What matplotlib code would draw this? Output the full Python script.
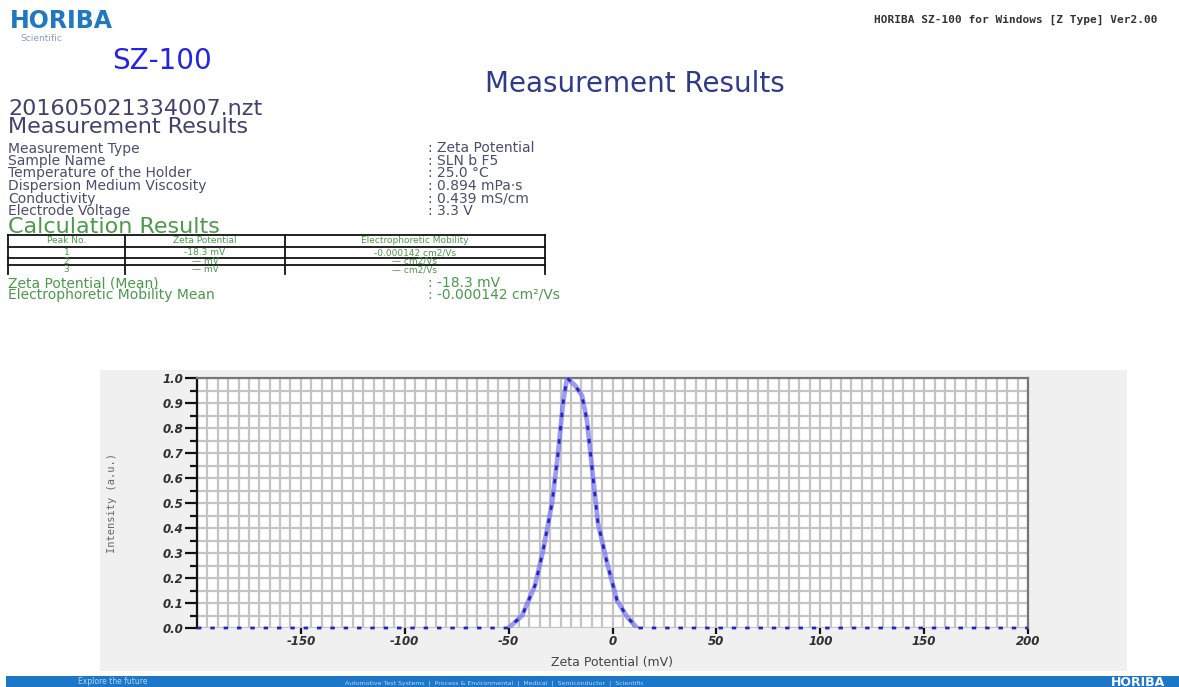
import numpy as np
import matplotlib
matplotlib.use("Agg")
import matplotlib.pyplot as plt
from matplotlib.patches import Rectangle
from matplotlib.lines import Line2D
from matplotlib.ticker import MultipleLocator, FixedLocator
from matplotlib.font_manager import FontProperties

# ---- zeta potential distribution ----
zeta_mv = [-200, -50, -43.5, -37.3, -33.4, -29.1, -26.2, -23.8, -21.9, -18.0,
           -14.7, -12.3, -9.9, -7.0, -2.6, 2.2, 7.0, 11.8, 200]
intensity = [0.0, 0.0, 0.05, 0.17, 0.31, 0.50, 0.70, 0.90, 1.00, 0.97,
             0.93, 0.83, 0.645, 0.42, 0.26, 0.11, 0.045, 0.0, 0.0]

x_tick_values = [-150, -100, -50, 0, 50, 100, 150, 200]
x_tick_labels = ["-150", "-100", "-50", "0", "50", "100", "150", "200"]
y_tick_values = [0.0, 0.1, 0.2, 0.3, 0.4, 0.5, 0.6, 0.7, 0.8, 0.9, 1.0]
y_tick_labels = ["0.0", "0.1", "0.2", "0.3", "0.4", "0.5", "0.6", "0.7", "0.8", "0.9", "1.0"]

# ---- report text ----
info_labels = ["Measurement Type", "Sample Name", "Temperature of the Holder",
               "Dispersion Medium Viscosity", "Conductivity", "Electrode Voltage"]
info_values = [": Zeta Potential", ": SLN b F5", ": 25.0 °C",
               ": 0.894 mPa·s", ": 0.439 mS/cm", ": 3.3 V"]
table_header = ["Peak No.", "Zeta Potential", "Electrophoretic Mobility"]
table_rows = [["1", "-18.3 mV", "-0.000142 cm2/Vs"],
              ["2", "— mV", "— cm2/Vs"],
              ["3", "— mV", "— cm2/Vs"]]
mean_labels = ["Zeta Potential (Mean)", "Electrophoretic Mobility Mean"]
mean_values = [": -18.3 mV", ": -0.000142 cm²/Vs"]

W, H = 1179, 687
fig = plt.figure(figsize=(W / 100, H / 100), dpi=100)
fig.patch.set_facecolor("white")


def fx(x):
    return x / W


def fy(y):
    return 1 - y / H


def put(x, y, s, **kw):
    kw.setdefault("family", "DejaVu Sans")
    kw.setdefault("va", "baseline")
    fig.text(fx(x), fy(y), s, **kw)


def hline(x0, x1, y, **kw):
    fig.add_artist(Line2D([fx(x0), fx(x1)], [fy(y), fy(y)], transform=fig.transFigure, **kw))


def vline(x, y0, y1, **kw):
    fig.add_artist(Line2D([fx(x), fx(x)], [fy(y0), fy(y1)], transform=fig.transFigure, **kw))


# header
put(10, 28, "HORIBA", fontsize=17, weight="heavy", color="#1f78c1")
put(20, 41, "Scientific", fontsize=6.5, color="#8a9cc0")
put(112, 69, "SZ‑100", fontsize=20, color="#2424e6")
put(1157, 23, "HORIBA SZ-100 for Windows [Z Type] Ver2.00", fontsize=8,
    family="DejaVu Sans Mono", weight="bold", color="#333333", ha="right")
put(635, 92, "Measurement Results", fontsize=20, color="#2e3a8c", ha="center")

navy = "#414170"
put(8, 115, "201605021334007.nzt", fontsize=16, color=navy)
put(8, 133, "Measurement Results", fontsize=16, color=navy)

row_base = [152.5, 165, 177.5, 190, 203, 215.5]
for yb, lab, val in zip(row_base, info_labels, info_values):
    put(8, yb, lab, fontsize=10, color="#4c4c70")
    put(428, yb, val, fontsize=10, color="#4c4c70")

green = "#4a9a4a"
put(8, 233, "Calculation Results", fontsize=16, color=green)

# results table
tl = dict(color="#111111", lw=1.3)
col_x = [8, 125, 285, 545]
hline(8, 545, 234.5, **tl)
for yy in (246.5, 257.5, 265.5):
    hline(8, 545, yy, **tl)
for cx in col_x:
    vline(cx, 234.5, 274, **tl)
col_c = [(col_x[i] + col_x[i + 1]) / 2 for i in range(3)]
for i, s in enumerate(table_header):
    put(col_c[i], 243.5, s, fontsize=6.5, color=green, ha="center")
for yb, row in zip([255, 264, 272.5], table_rows):
    for i, s in enumerate(row):
        put(col_c[i], yb, s, fontsize=6.5, color=green, ha="center")

for yb, lab, val in zip([287, 299], mean_labels, mean_values):
    put(8, yb, lab, fontsize=10, color=green)
    put(428, yb, val, fontsize=10, color=green)

# chart panel
fig.add_artist(Rectangle((fx(100), fy(671)), fx(1127) - fx(100), fy(370) - fy(671),
                         transform=fig.transFigure, facecolor="#f0f0f0", edgecolor="none", zorder=0))

ax_left, ax_right = 197, 1028
ax = fig.add_axes([fx(ax_left), fy(628), fx(ax_right) - fx(ax_left), fy(378) - fy(628)])
ax.set_facecolor("white")
ax.set_xlim(-200, 200)
ax.set_ylim(0, 1.0)

ax.xaxis.set_major_locator(FixedLocator(x_tick_values))
ax.set_xticklabels(x_tick_labels)
ax.xaxis.set_minor_locator(MultipleLocator(5))
ax.yaxis.set_major_locator(FixedLocator(y_tick_values))
ax.set_yticklabels(y_tick_labels)
ax.yaxis.set_minor_locator(MultipleLocator(0.05))

ax.grid(which="both", color="#c4c4c4", lw=1.6)
ax.set_axisbelow(True)

tick_fp = FontProperties(family="DejaVu Sans", weight="bold", style="italic", size=8.5)
for lab in ax.get_xticklabels() + ax.get_yticklabels():
    lab.set_fontproperties(tick_fp)
    lab.set_color("#303030")
ax.tick_params(axis="y", which="major", length=9, width=1.6, color="#111111", pad=1)
ax.tick_params(axis="y", which="minor", length=5, width=1.6, color="#111111")
ax.tick_params(axis="x", which="major", length=4, width=1.6, color="#111111", pad=1)
ax.tick_params(axis="x", which="minor", length=0)

for side in ("top", "right"):
    ax.spines[side].set_color("#777777")
    ax.spines[side].set_linewidth(1.6)
ax.spines["left"].set_color("#111111")
ax.spines["left"].set_linewidth(1.6)
ax.spines["bottom"].set_visible(False)

# distribution curve: soft wide trace with a dotted core
zx = np.array(zeta_mv)
zy = np.array(intensity)
nz = np.nonzero(zy)[0]
seg = slice(nz[0] - 1, nz[-1] + 2)
ax.plot(zx[seg], zy[seg], color="#7474f2", lw=3.4, alpha=0.7, solid_capstyle="round", zorder=3)
ax.plot(zx, zy, color="#2424c0", lw=2.0, ls=(0, (1.6, 3.2)), zorder=4, clip_on=False)

ax.set_ylabel("Intensity (a.u.)", family="DejaVu Sans Mono", fontsize=7.5, color="#666666")
ax.yaxis.set_label_coords((117 - ax_left) / (ax_right - ax_left), 0.5)
put(612, 666, "Zeta Potential (mV)", fontsize=9, color="#444444", ha="center")

# footer bar
fig.add_artist(Rectangle((fx(6), 0), 1 - fx(6), fy(676), transform=fig.transFigure,
                         facecolor="#1c77c9", edgecolor="none", zorder=0))
put(78, 684.5, "Explore the future", fontsize=5.5, color="#b8d4f0")
put(345, 684.5, "Automotive Test Systems  |  Process & Environmental  |  Medical  |  Semiconductor  |  Scientific",
    fontsize=4.5, color="#b8d4f0")
put(1165, 685.5, "HORIBA", fontsize=9, weight="heavy", color="white", ha="right")

fig.savefig("out.png", dpi=100, facecolor="white")
